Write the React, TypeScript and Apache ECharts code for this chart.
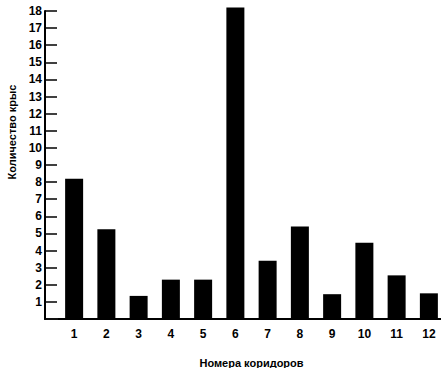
import React, { useEffect, useRef } from "react";
import * as echarts from "echarts";

const corridors = ["1", "2", "3", "4", "5", "6", "7", "8", "9", "10", "11", "12"];
const ratCounts = [8.2, 5.25, 1.35, 2.3, 2.3, 18.2, 3.4, 5.4, 1.45, 4.45, 2.55, 1.5];
const yTitle = "Количество крыс";
const xTitle = "Номера коридоров";

const FONT = "'Liberation Sans', Arial, sans-serif";

export default function App() {
  const ref = useRef<HTMLDivElement>(null);
  useEffect(() => {
    if (!ref.current) return;
    const chart = echarts.init(ref.current, null, { renderer: "svg" });
    chart.setOption({
      animation: false,
      backgroundColor: "#ffffff",
      grid: {
        left: 58,
        right: -4,
        top: 11,
        bottom: 49,
        containLabel: false,
        outerBoundsMode: "none",
      },
      xAxis: {
        type: "category",
        data: corridors,
        boundaryGap: true,
        axisLine: { show: true, onZero: false, lineStyle: { color: "#000", width: 2 } },
        axisTick: { show: false },
        axisLabel: {
          color: "#000",
          fontFamily: FONT,
          fontWeight: "bold",
          fontSize: 12,
          margin: 9,
        },
        name: xTitle,
        nameLocation: "middle",
        nameGap: 38,
        nameTextStyle: {
          color: "#000",
          fontFamily: FONT,
          fontWeight: "bold",
          fontSize: 11,
        },
        splitLine: { show: false },
      },
      yAxis: {
        type: "value",
        min: 0,
        max: 18,
        interval: 1,
        offset: 13,
        axisLine: { show: true, lineStyle: { color: "#000", width: 2 } },
        axisTick: {
          show: true,
          inside: true,
          length: 12,
          lineStyle: { color: "#000", width: 1.5 },
        },
        axisLabel: {
          color: "#000",
          fontFamily: FONT,
          fontWeight: "bold",
          fontSize: 12,
          margin: 3,
          formatter: (v: number) => (v === 0 ? "" : String(v)),
        },
        splitLine: { show: false },
      },
      graphic: [
        {
          type: "line",
          z: 100,
          shape: { x1: 44, y1: 319, x2: 441, y2: 319 },
          style: { stroke: "#000", lineWidth: 1.5 },
        },
        {
          type: "text",
          x: 12,
          y: 132,
          rotation: Math.PI / 2,
          style: {
            text: yTitle,
            fill: "#000",
            font: `bold 11px ${FONT}`,
            textAlign: "center",
            textVerticalAlign: "middle",
          },
        },
      ],
      series: [
        {
          type: "bar",
          data: ratCounts,
          barWidth: 18,
          clip: false,
          itemStyle: { color: "#000" },
        },
      ],
    });
    return () => chart.dispose();
  }, []);
  return (
    <div
      ref={ref}
      style={{ position: "fixed", left: 0, top: 0, width: 441, height: 368 }}
    />
  );
}
